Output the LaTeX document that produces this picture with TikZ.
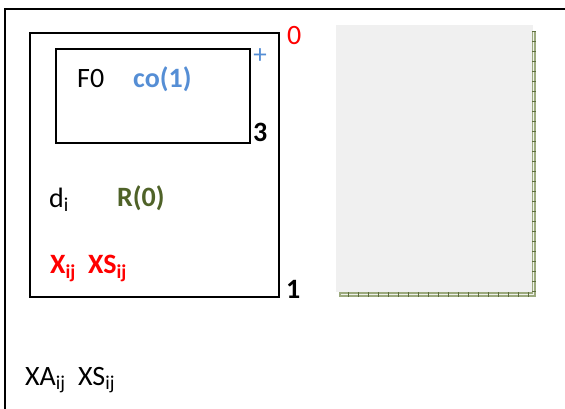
\documentclass[tikz,border=0pt]{standalone}
\usepackage{fontspec}
\setmainfont{Carlito}
\definecolor{cored}{HTML}{FF0000}
\definecolor{coblue}{HTML}{558ED5}
\definecolor{coolive}{HTML}{4F6228}
\definecolor{pagegray}{HTML}{F0F0F0}
\definecolor{rulegreen}{HTML}{9CAA7E}
\definecolor{tickgreen}{HTML}{5E6E3E}
\tikzset{
  lbl/.style={inner sep=0pt, anchor=base west, font=\fontsize{28}{33}\selectfont},
  boxline/.style={draw=black, line width=1.6pt},
}
\begin{document}
\begin{tikzpicture}[x=1pt,y=-1pt]
\useasboundingbox (0,0) rectangle (565,409);
\fill[white] (0,0) rectangle (565,409);

% outer frame (open on right and bottom)
\coordinate (fbl) at (5,409);
\coordinate (ftl) at (5,9);
\coordinate (ftr) at (565,9);
\draw[line width=2.2pt] (fbl) -- (ftl) -- (ftr);

% middle and inner boxes
\node[boxline, minimum width=249pt, minimum height=264pt, inner sep=0pt, anchor=north west] (mid) at (29,32) {};
\node[boxline, minimum width=194pt, minimum height=94pt, inner sep=0pt, anchor=north west] (inner) at (55,48) {};

% labels inside
\node[lbl] (f0) at (77,88) {F0};
\node[lbl, text=coblue] (co) at (133,88) {\bfseries co(1)};
\node[lbl] (di) at (49,207) {d\textsubscript{i}};
\node[lbl, text=coolive] (r0) at (117,206) {\bfseries R(0)};
\node[lbl, text=cored] (x) at (50,273) {\bfseries X\textsubscript{ij}};
\node[lbl, text=cored] (xs) at (88,273) {\bfseries XS\textsubscript{ij}};

% corner labels
\node[lbl, text=cored] (zero) at (287,45) {0};
\node[inner sep=0pt, text=coblue, font=\fontsize{27}{31}\selectfont] (plus) at (260,56) {+};
\node[lbl] (three) at (253,142) {\bfseries 3};
\node[lbl] (one) at (286,298) {\bfseries 1};

% bottom labels
\node[lbl] (xa) at (25,385) {XA\textsubscript{ij}};
\node[lbl] (xs2) at (78,385) {XS\textsubscript{ij}};

% page sketch with ruled edges
\fill[pagegray] (336,25) rectangle (533,292);
\fill[rulegreen] (532,31) rectangle (536,297);
\fill[rulegreen] (339,292) rectangle (536,297);
\draw[white!85!rulegreen, line width=0.5pt] (341,294) -- (533,294) -- (533,31);
\foreach \t in {31,41,...,291} \draw[tickgreen, line width=0.5pt] (532,\t) -- (536,\t);
\foreach \t in {348,358,...,528} \draw[tickgreen, line width=0.5pt] (\t,292) -- (\t,297);
\end{tikzpicture}
\end{document}
